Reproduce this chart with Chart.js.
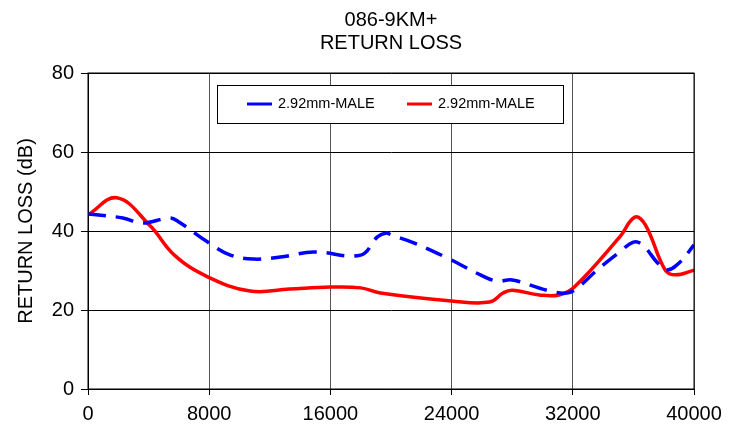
<!DOCTYPE html>
<html>
<head>
<meta charset="utf-8">
<script src="https://cdn.jsdelivr.net/npm/chart.js@4"></script>
<style>
  html, body { margin: 0; padding: 0; background: #fff; }
  #wrap { width: 742px; height: 430px; }
</style>
</head>
<body>
<div id="wrap"><canvas id="chart" width="742" height="430"></canvas></div>
<script>
  // values
  const titleLines = ['086-9KM+', 'RETURN LOSS'];
  const yTitle = 'RETURN LOSS (dB)';
  const seriesNames = ['2.92mm-MALE', '2.92mm-MALE'];
  const xTicks = [0, 8000, 16000, 24000, 32000, 40000];
  const yTicks = [0, 20, 40, 60, 80];

  const freqBlue = [0, 2300, 3600, 5400, 6000, 7900, 9400, 10900, 12700, 14900, 18000, 19100, 19700, 20000, 21500, 23700, 25900, 27000, 28000, 30300, 31600, 32300, 33600, 35100, 36000, 36600, 37600, 38200, 39100, 40000];
  const lossBlue = [44.3, 43.3, 42.0, 43.3, 42.3, 37.2, 33.9, 32.9, 33.4, 34.7, 33.9, 38.5, 39.5, 39.0, 37.0, 33.2, 28.9, 27.3, 27.6, 25.0, 24.3, 25.6, 30.1, 34.7, 37.2, 36.5, 31.9, 30.1, 32.2, 36.5];

  const freqRed = [0, 1900, 4100, 5700, 7900, 10700, 13300, 16000, 18000, 19300, 24000, 26500, 27400, 28000, 29800, 31100, 32100, 35100, 36100, 36800, 38100, 38800, 40000];
  const lossRed = [44.1, 48.4, 41.3, 33.9, 28.4, 24.8, 25.3, 25.8, 25.6, 24.3, 22.3, 22.0, 24.3, 25.0, 23.8, 23.8, 25.8, 38.5, 43.5, 41.5, 30.1, 28.9, 30.1];

  const FONT = 'Liberation Sans, Arial, sans-serif';

  const toPoints = (xs, ys) => xs.map((x, i) => ({ x: x, y: ys[i] }));

  // title, y-axis title and the boxed legend are drawn by hand
  const decor = {
    id: 'decor',
    afterDraw(chart) {
      const ctx = chart.ctx;
      const area = chart.chartArea;
      ctx.save();
      ctx.fillStyle = '#000';
      ctx.textAlign = 'center';
      ctx.textBaseline = 'middle';
      ctx.font = '20px ' + FONT;
      ctx.fillText(titleLines[0], 391, 20);
      ctx.fillText(titleLines[1], 391, 43);

      ctx.save();
      ctx.translate(26, (area.top + area.bottom) / 2);
      ctx.rotate(-Math.PI / 2);
      ctx.font = '20px ' + FONT;
      ctx.fillText(yTitle, 0, 0);
      ctx.restore();

      // legend box
      ctx.fillStyle = '#fff';
      ctx.fillRect(217, 85, 346, 38);
      ctx.strokeStyle = '#000';
      ctx.lineWidth = 1;
      ctx.strokeRect(217.5, 85.5, 346, 38);
      ctx.font = '14.5px ' + FONT;
      ctx.textAlign = 'left';
      const xs = [247, 407];
      chart.data.datasets.forEach((ds, i) => {
        ctx.strokeStyle = ds.borderColor;
        ctx.lineWidth = 3;
        ctx.setLineDash([]);
        ctx.beginPath();
        ctx.moveTo(xs[i], 104);
        ctx.lineTo(xs[i] + 25, 104);
        ctx.stroke();
        ctx.fillStyle = '#000';
        ctx.fillText(ds.label, xs[i] + 31, 104);
      });
      ctx.restore();
    }
  };

  new Chart(document.getElementById('chart').getContext('2d'), {
    type: 'line',
    data: {
      datasets: [
        {
          label: seriesNames[0],
          data: toPoints(freqBlue, lossBlue),
          borderColor: '#0000ff',
          borderWidth: 3.5,
          borderDash: [18, 10],
          pointRadius: 0,
          tension: 0.4,
          fill: false
        },
        {
          label: seriesNames[1],
          data: toPoints(freqRed, lossRed),
          borderColor: '#ff0000',
          borderWidth: 3.5,
          pointRadius: 0,
          tension: 0.4,
          fill: false
        }
      ]
    },
    options: {
      responsive: false,
      animation: false,
      layout: { padding: { left: 0, right: 48, top: 73, bottom: 0 } },
      plugins: {
        legend: { display: false },
        title: { display: false },
        tooltip: { enabled: false }
      },
      scales: {
        x: {
          type: 'linear',
          min: xTicks[0],
          max: xTicks[xTicks.length - 1],
          afterBuildTicks: (s) => { s.ticks = xTicks.map(v => ({ value: v })); },
          afterFit: (s) => { s.height = 41; },
          grid: { color: '#555', lineWidth: 1, drawTicks: true, tickLength: 6, tickColor: '#000' },
          border: { color: '#000', width: 1 },
          ticks: {
            color: '#000', font: { family: FONT, size: 20 }, maxRotation: 0, padding: 7,
            callback: (v) => String(v)
          }
        },
        y: {
          min: yTicks[0],
          max: yTicks[yTicks.length - 1],
          afterBuildTicks: (s) => { s.ticks = yTicks.map(v => ({ value: v })); },
          afterFit: (s) => { s.width = 88; },
          grid: { color: '#000', lineWidth: 1, drawTicks: true, tickLength: 7, tickColor: '#000' },
          border: { color: '#000', width: 1 },
          ticks: { color: '#000', font: { family: FONT, size: 20 }, padding: 7 }
        }
      }
    },
    plugins: [decor, {
      id: 'frame',
      afterDatasetsDraw(chart) {
        const a = chart.chartArea;
        const ctx = chart.ctx;
        ctx.save();
        ctx.strokeStyle = '#000';
        ctx.lineWidth = 1;
        ctx.strokeRect(a.left, a.top, a.right - a.left, a.bottom - a.top);
        ctx.restore();
      }
    }]
  });
</script>
</body>
</html>
